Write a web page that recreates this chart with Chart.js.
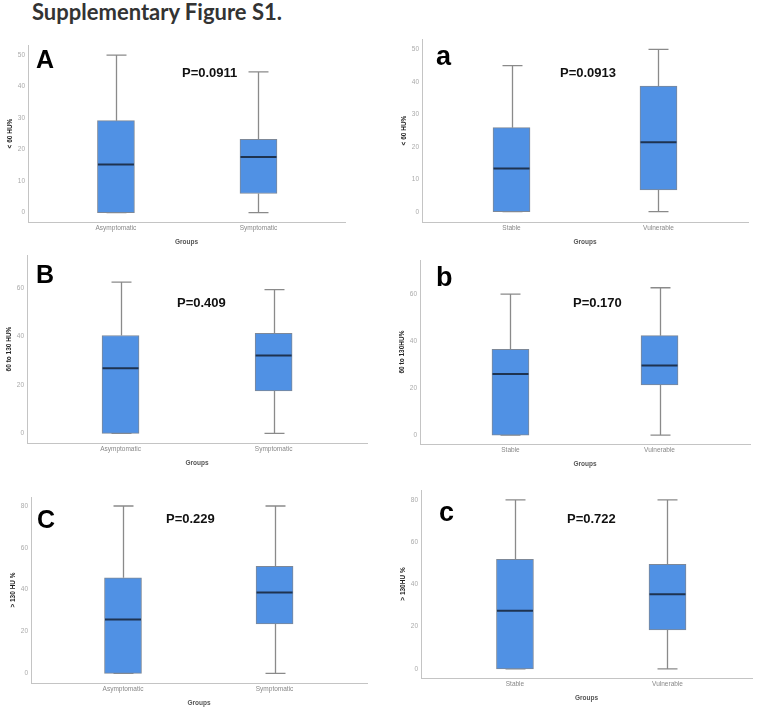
<!DOCTYPE html>
<html>
<head>
<meta charset="utf-8">
<script src="https://cdn.jsdelivr.net/npm/chart.js@4.4.0/dist/chart.umd.min.js"></script>
<style>
  body { margin: 0; background: #fff; }
  #page { position: relative; width: 759px; height: 711px; overflow: hidden; font-family: "Liberation Sans", Arial, sans-serif; }
  #page canvas { position: absolute; left: 0; top: 0; }
  .title { position: absolute; left: 32px; top: 1px; font-family: Lato, "Open Sans", sans-serif; font-weight: 700; font-size: 22px; line-height: 22px; color: #333; white-space: nowrap; }
  .letter { position: absolute; font-weight: bold; color: #000; }
  .pval { position: absolute; font-weight: bold; font-size: 13px; line-height: 13px; color: #111; white-space: nowrap; }
</style>
</head>
<body>
<div id="page">
  <div class="title">Supplementary Figure S1.</div>
</div>
<script>
  // groups on the x axis
  const groupsSym = ['Asymptomatic', 'Symptomatic'];
  const groupsStab = ['Stable', 'Vulnerable'];

  // five number summaries: min, q1, median, q3, max
  const lowAsym = [0, 0, 15.3, 29.2, 50];
  const lowSym = [0, 6.1, 17.7, 23.3, 44.7];
  const lowStable = [0, 0, 13.3, 25.9, 45];
  const lowVuln = [0, 6.7, 21.4, 38.7, 50];

  const midAsym = [0, 0, 26.8, 40.3, 62.3];
  const midSym = [0, 17.5, 32.1, 41.2, 59.2];
  const midStable = [0, 0, 26.0, 36.5, 60];
  const midVuln = [0, 21.3, 29.6, 42.3, 62.7];

  const highAsym = [0, 0, 25.8, 45.7, 80];
  const highSym = [0, 23.6, 38.6, 51.2, 80];
  const highStable = [0, 0, 27.5, 51.9, 80];
  const highVuln = [0, 18.5, 35.3, 49.5, 80];

  // y tick labels
  const ticksLow = [0, 10, 20, 30, 40, 50];
  const ticksMid = [0, 20, 40, 60];
  const ticksHigh = [0, 20, 40, 60, 80];

  const pValues = ['P=0.0911', 'P=0.0913', 'P=0.409', 'P=0.170', 'P=0.229', 'P=0.722'];

  const boxBlue = '#5091e4';
  const boxEdge = '#7d8898';
  const whiskerGray = '#8a8a8a';
  const medianColor = '#1e3350';
  const axisGray = '#c4c4c4';

  const Y_W = 28;   // y axis box width
  const X_H = 26;   // x axis box height

  const panels = [
    { letter: 'A', size: 25, lx: 36, ly: 46.5, px: 182, py: 65.5, groups: groupsSym, stats: [lowAsym, lowSym], ticks: ticksLow, yTitle: '< 60 HU%', area: { l: 28, t: 45, r: 345, b: 222 }, xr: [0.383, 2.607], yr: [-2.95, 53.2] },
    { letter: 'a', size: 27, lx: 436, ly: 43, px: 560, py: 65.5, groups: groupsStab, stats: [lowStable, lowVuln], ticks: ticksLow, yTitle: '< 60 HU%', area: { l: 422, t: 39, r: 748, b: 222 }, xr: [0.391, 2.609], yr: [-3.17, 53.2] },
    { letter: 'B', size: 25, lx: 36, ly: 262, px: 177, py: 295.5, groups: groupsSym, stats: [midAsym, midSym], ticks: ticksMid, yTitle: '60 to 130 HU%', area: { l: 27, t: 255, r: 367, b: 443 }, xr: [0.389, 2.61], yr: [-4.0, 73.5] },
    { letter: 'b', size: 27, lx: 436, ly: 264, px: 573, py: 295.5, groups: groupsStab, stats: [midStable, midVuln], ticks: ticksMid, yTitle: '60 to 130HU%', area: { l: 420, t: 260, r: 750, b: 444 }, xr: [0.393, 2.607], yr: [-3.8, 74.5] },
    { letter: 'C', size: 25, lx: 37, ly: 506.5, px: 166, py: 511.5, groups: groupsSym, stats: [highAsym, highSym], ticks: ticksHigh, yTitle: '> 130 HU %', area: { l: 31, t: 497, r: 367, b: 683 }, xr: [0.393, 2.61], yr: [-4.6, 84.3] },
    { letter: 'c', size: 27, lx: 439, ly: 499, px: 567, py: 511.5, groups: groupsStab, stats: [highStable, highVuln], ticks: ticksHigh, yTitle: '> 130HU %', area: { l: 421, t: 490, r: 752, b: 678 }, xr: [0.384, 2.554], yr: [-4.3, 84.7] }
  ];

  // whiskers behind the boxes, medians on top
  const boxPlugin = {
    id: 'boxWhiskers',
    beforeDatasetsDraw(chart) {
      const ctx = chart.ctx;
      const y = chart.scales.y;
      const ds = chart.data.datasets[0];
      chart.getDatasetMeta(0).data.forEach((bar, i) => {
        const s = ds.stats[i];
        const x = Math.round(bar.x) + 0.5;
        const cap = bar.width * 0.27;
        const yMin = y.getPixelForValue(s[0]);
        const yQ1 = y.getPixelForValue(s[1]);
        const yQ3 = y.getPixelForValue(s[3]);
        const yMax = y.getPixelForValue(s[4]);
        ctx.save();
        ctx.strokeStyle = whiskerGray;
        ctx.lineWidth = 1.3;
        ctx.beginPath();
        ctx.moveTo(x, yQ3); ctx.lineTo(x, yMax);
        ctx.moveTo(x, yQ1); ctx.lineTo(x, yMin);
        ctx.moveTo(x - cap, yMax); ctx.lineTo(x + cap, yMax);
        ctx.moveTo(x - cap, yMin); ctx.lineTo(x + cap, yMin);
        ctx.stroke();
        ctx.restore();
      });
    },
    afterDatasetsDraw(chart) {
      const ctx = chart.ctx;
      const y = chart.scales.y;
      const ds = chart.data.datasets[0];
      chart.getDatasetMeta(0).data.forEach((bar, i) => {
        const yMed = y.getPixelForValue(ds.stats[i][2]);
        ctx.save();
        ctx.strokeStyle = medianColor;
        ctx.lineWidth = 2;
        ctx.beginPath();
        ctx.moveTo(bar.x - bar.width / 2 + 0.5, yMed);
        ctx.lineTo(bar.x + bar.width / 2 - 0.5, yMed);
        ctx.stroke();
        ctx.restore();
      });
    }
  };

  const page = document.getElementById('page');

  panels.forEach((p, n) => {
    const cv = document.createElement('canvas');
    cv.width = 759;
    cv.height = 711;
    page.appendChild(cv);

    new Chart(cv, {
      type: 'bar',
      data: {
        datasets: [{
          data: p.stats.map((s, i) => ({ x: i + 1, y: [s[1], s[3]] })),
          stats: p.stats,
          backgroundColor: boxBlue,
          borderColor: boxEdge,
          borderWidth: 1,
          borderSkipped: false,
          barThickness: 37
        }]
      },
      options: {
        responsive: false,
        animation: false,
        events: [],
        layout: {
          padding: { left: p.area.l - Y_W, top: p.area.t, right: 759 - p.area.r, bottom: 711 - p.area.b - X_H }
        },
        plugins: { legend: { display: false }, tooltip: { enabled: false } },
        scales: {
          x: {
            type: 'linear',
            offset: false,
            min: p.xr[0],
            max: p.xr[1],
            grid: { display: false, drawTicks: false, offset: false },
            border: { color: axisGray, width: 1 },
            afterBuildTicks: s => { s.ticks = [{ value: 1 }, { value: 2 }]; },
            afterFit: s => { s.height = X_H; },
            ticks: {
              callback: v => p.groups[v - 1],
              font: { size: 6.5, family: 'Liberation Sans' },
              color: '#888',
              padding: 2,
              maxRotation: 0,
              autoSkip: false
            },
            title: { display: true, text: 'Groups', font: { size: 6.5, weight: 'bold', family: 'Liberation Sans' }, color: '#555', padding: { top: 0, bottom: 2 } }
          },
          y: {
            min: p.yr[0],
            max: p.yr[1],
            grid: { display: false, drawTicks: false },
            border: { color: axisGray, width: 1 },
            afterBuildTicks: s => { s.ticks = p.ticks.map(v => ({ value: v })); },
            afterFit: s => { s.width = Y_W; },
            ticks: { font: { size: 6.5, family: 'Liberation Sans' }, color: '#aaa', padding: 3 },
            title: { display: true, text: p.yTitle, font: { size: 6.5, weight: 'bold', family: 'Liberation Sans' }, color: '#222', padding: { top: 6, bottom: 0 } }
          }
        }
      },
      plugins: [boxPlugin]
    });

    // panel letter and p value
    const l = document.createElement('div');
    l.className = 'letter';
    l.textContent = p.letter;
    l.style.left = p.lx + 'px';
    l.style.top = p.ly + 'px';
    l.style.fontSize = p.size + 'px';
    l.style.lineHeight = p.size + 'px';
    page.appendChild(l);

    const pv = document.createElement('div');
    pv.className = 'pval';
    pv.textContent = pValues[n];
    pv.style.left = p.px + 'px';
    pv.style.top = p.py + 'px';
    page.appendChild(pv);
  });
</script>
</body>
</html>
